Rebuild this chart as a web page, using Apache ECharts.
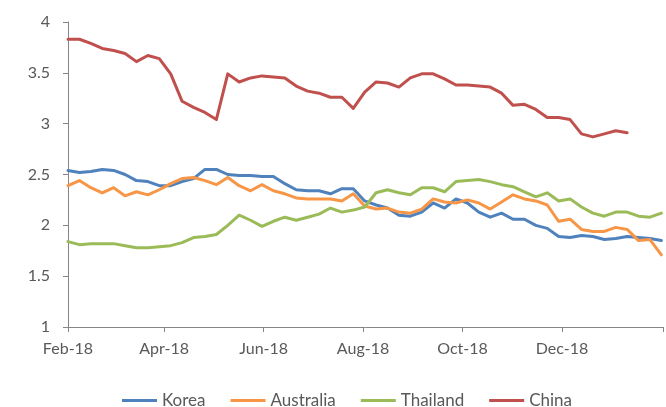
<!DOCTYPE html>
<html>
<head>
<meta charset="utf-8">
<script src="https://cdn.jsdelivr.net/npm/echarts@6/dist/echarts.min.js"></script>
<style>
  html, body { margin: 0; padding: 0; background: #fff; }
  #chart { width: 666px; height: 407px; }
</style>
</head>
<body>
<div id="chart"></div>
<script>
// weekly observation dates
const weeks = [
  '2018-02-01','2018-02-08','2018-02-15','2018-02-22','2018-03-01','2018-03-08','2018-03-15','2018-03-22','2018-03-29',
  '2018-04-05','2018-04-12','2018-04-19','2018-04-26','2018-05-03','2018-05-10','2018-05-17','2018-05-24','2018-05-31',
  '2018-06-07','2018-06-14','2018-06-21','2018-06-28','2018-07-05','2018-07-12','2018-07-19','2018-07-26',
  '2018-08-02','2018-08-09','2018-08-16','2018-08-23','2018-08-30','2018-09-06','2018-09-13','2018-09-20','2018-09-27',
  '2018-10-04','2018-10-11','2018-10-18','2018-10-25','2018-11-01','2018-11-08','2018-11-15','2018-11-22','2018-11-29',
  '2018-12-06','2018-12-13','2018-12-20','2018-12-27','2019-01-03','2019-01-10','2019-01-17','2019-01-24','2019-01-31'
];

const korea = [
  2.54, 2.52, 2.53, 2.55, 2.54, 2.50, 2.44, 2.43, 2.39, 2.39,
  2.43, 2.46, 2.55, 2.55, 2.50, 2.49, 2.49, 2.48, 2.48, 2.41,
  2.35, 2.34, 2.34, 2.31, 2.36, 2.36, 2.24, 2.20, 2.17, 2.10,
  2.09, 2.13, 2.22, 2.17, 2.26, 2.22, 2.13, 2.08, 2.12, 2.06,
  2.06, 2.00, 1.97, 1.89, 1.88, 1.90, 1.89, 1.86, 1.87, 1.89,
  1.88, 1.87, 1.85
];
const australia = [
  2.39, 2.44, 2.37, 2.32, 2.37, 2.29, 2.33, 2.30, 2.35, 2.41,
  2.46, 2.47, 2.44, 2.40, 2.47, 2.39, 2.34, 2.40, 2.34, 2.31,
  2.27, 2.26, 2.26, 2.26, 2.24, 2.31, 2.19, 2.16, 2.17, 2.13,
  2.12, 2.16, 2.26, 2.23, 2.22, 2.25, 2.22, 2.16, 2.23, 2.30,
  2.26, 2.24, 2.20, 2.04, 2.06, 1.96, 1.94, 1.94, 1.98, 1.96,
  1.85, 1.86, 1.71
];
const thailand = [
  1.84, 1.81, 1.82, 1.82, 1.82, 1.80, 1.78, 1.78, 1.79, 1.80,
  1.83, 1.88, 1.89, 1.91, 2.00, 2.10, 2.05, 1.99, 2.04, 2.08,
  2.05, 2.08, 2.11, 2.17, 2.13, 2.15, 2.18, 2.32, 2.35, 2.32,
  2.30, 2.37, 2.37, 2.33, 2.43, 2.44, 2.45, 2.43, 2.40, 2.38,
  2.33, 2.28, 2.32, 2.24, 2.26, 2.18, 2.12, 2.09, 2.13, 2.13,
  2.09, 2.08, 2.12
];
const china = [
  3.83, 3.83, 3.79, 3.74, 3.72, 3.69, 3.61, 3.67, 3.64, 3.49,
  3.22, 3.16, 3.11, 3.04, 3.49, 3.41, 3.45, 3.47, 3.46, 3.45,
  3.37, 3.32, 3.30, 3.26, 3.26, 3.15, 3.31, 3.41, 3.40, 3.36,
  3.45, 3.49, 3.49, 3.44, 3.38, 3.38, 3.37, 3.36, 3.30, 3.18,
  3.19, 3.14, 3.06, 3.06, 3.04, 2.90, 2.87, 2.90, 2.93, 2.91
];

const tickDates = ['2018-02-01','2018-04-01','2018-06-01','2018-08-01','2018-10-01','2018-12-01','2019-02-01'];
const tickLabels = ['Feb-18','Apr-18','Jun-18','Aug-18','Oct-18','Dec-18',''];

// x axis runs in days from the first date
const DAY = 86400000;
const start = Date.parse(weeks[0]);
const dayOf = d => Math.round((Date.parse(d) - start) / DAY);
const tickDays = tickDates.map(dayOf);

const pairs = vals => vals.map((v, i) => [dayOf(weeks[i]), v]);

const FONT = 'Lato, "Open Sans", sans-serif';
const chart = echarts.init(document.getElementById('chart'));

const lineSeries = (name, vals, color) => ({
  name,
  type: 'line',
  data: pairs(vals),
  showSymbol: false,
  symbol: 'none',
  lineStyle: { width: 3, color, join: 'round', cap: 'round' },
  itemStyle: { color },
  animation: false
});

chart.setOption({
  animation: false,
  grid: { left: 68, right: 3, top: 22, bottom: 80 },
  legend: {
    left: 117,
    top: 387,
    icon: 'rect',
    itemWidth: 35,
    itemHeight: 3,
    itemGap: 25,
    textStyle: { fontFamily: FONT, fontSize: 17, color: '#595959' },
    data: ['Korea', 'Australia', 'Thailand', 'China']
  },
  xAxis: {
    type: 'value',
    min: 0,
    max: tickDays[tickDays.length - 1],
    splitLine: { show: false },
    axisLine: { lineStyle: { color: '#868686', width: 1 } },
    axisTick: { show: true, length: 5, customValues: tickDays, lineStyle: { color: '#868686' } },
    axisLabel: {
      customValues: tickDays.slice(0, tickDays.length - 1),
      formatter: v => tickLabels[tickDays.indexOf(v)],
      fontFamily: FONT,
      fontSize: 16,
      color: '#595959',
      margin: 14
    }
  },
  yAxis: {
    type: 'value',
    min: 1,
    max: 4,
    interval: 0.5,
    splitLine: { show: false },
    axisLine: { show: true, lineStyle: { color: '#868686', width: 1 } },
    axisTick: { show: true, length: 5, lineStyle: { color: '#868686' } },
    axisLabel: { fontFamily: FONT, fontSize: 16, color: '#595959', margin: 18 }
  },
  series: [
    lineSeries('Korea', korea, '#4F81BD'),
    lineSeries('Australia', australia, '#F79646'),
    lineSeries('Thailand', thailand, '#9BBB59'),
    lineSeries('China', china, '#C0504D')
  ]
});
</script>
</body>
</html>
